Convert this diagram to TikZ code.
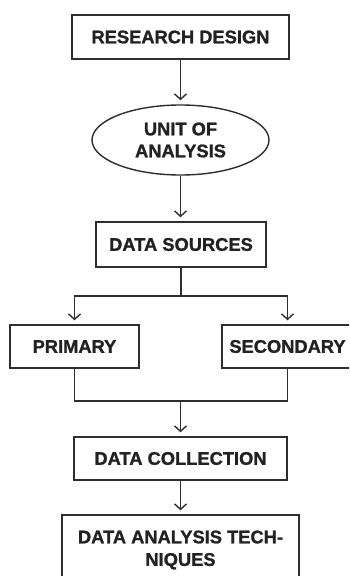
\documentclass[tikz,border=0pt]{standalone}
\usepackage{fontspec}
\setmainfont{Liberation Sans}
\newfontfamily\heavyfont[FakeBold=1.2]{Liberation Sans Bold}
\usetikzlibrary{shapes.geometric,arrows.meta,calc}
\definecolor{ink}{HTML}{222222}
\definecolor{edge}{HTML}{2E2E2E}
\tikzset{
  box/.style={draw=edge, line width=1.4pt, rectangle, inner sep=0pt, text=ink,
    font=\fontsize{18.3}{22.5}\selectfont\heavyfont, align=center},
  oval/.style={draw=edge, line width=1.4pt, ellipse, inner sep=0pt, text=ink,
    font=\fontsize{18.3}{22}\selectfont\heavyfont, align=center},
  link/.style={draw=edge, line width=1.4pt},
  arr/.style={link, -{Straight Barb[length=5.5pt,width=12pt,line width=1.4pt]}, shorten >=4pt}
}
\begin{document}
\begin{tikzpicture}[x=1pt,y=-1pt]
\useasboundingbox (0,0) rectangle (349,576);
\clip (0,0) rectangle (349,576);
\fill[white] (0,0) rectangle (349,576);
\node[box, minimum width=217pt, minimum height=44pt] (rd) at (180.5,37) {RESEARCH DESIGN};
\node[oval, minimum width=177pt, minimum height=70pt] (ua) at (180.5,140) {UNIT OF\\ANALYSIS};
\node[box, minimum width=170pt, minimum height=45pt] (ds) at (181,244.5) {DATA SOURCES};
\node[box, minimum width=129pt, minimum height=43pt] (pr) at (74.5,346.5) {PRIMARY};
\node[box, minimum width=131pt, minimum height=43pt] (se) at (287.5,346.5) {SECONDARY};
\node[box, minimum width=213pt, minimum height=43pt] (dc) at (180.5,458.5) {DATA COLLECTION};
\node[box, minimum width=237pt, minimum height=70pt] (da) at (180.5,550) {DATA ANALYSIS TECH-\\NIQUES};
\coordinate (split) at (181,296);
\coordinate (merge) at (180.5,401);
\draw[arr] (rd.south) -- (ua.north);
\draw[arr] (ua.south) -- (ua.south |- ds.north);
\draw[link] (ds.south) -- (split);
\draw[arr] (split) -| (pr.north);
\draw[arr] (split) -| (se.north);
\draw[link] (pr.south) |- (merge) -| (se.south);
\draw[arr] (merge) -- (dc.north);
\draw[arr] (dc.south) -- (da.north);
\end{tikzpicture}
\end{document}
